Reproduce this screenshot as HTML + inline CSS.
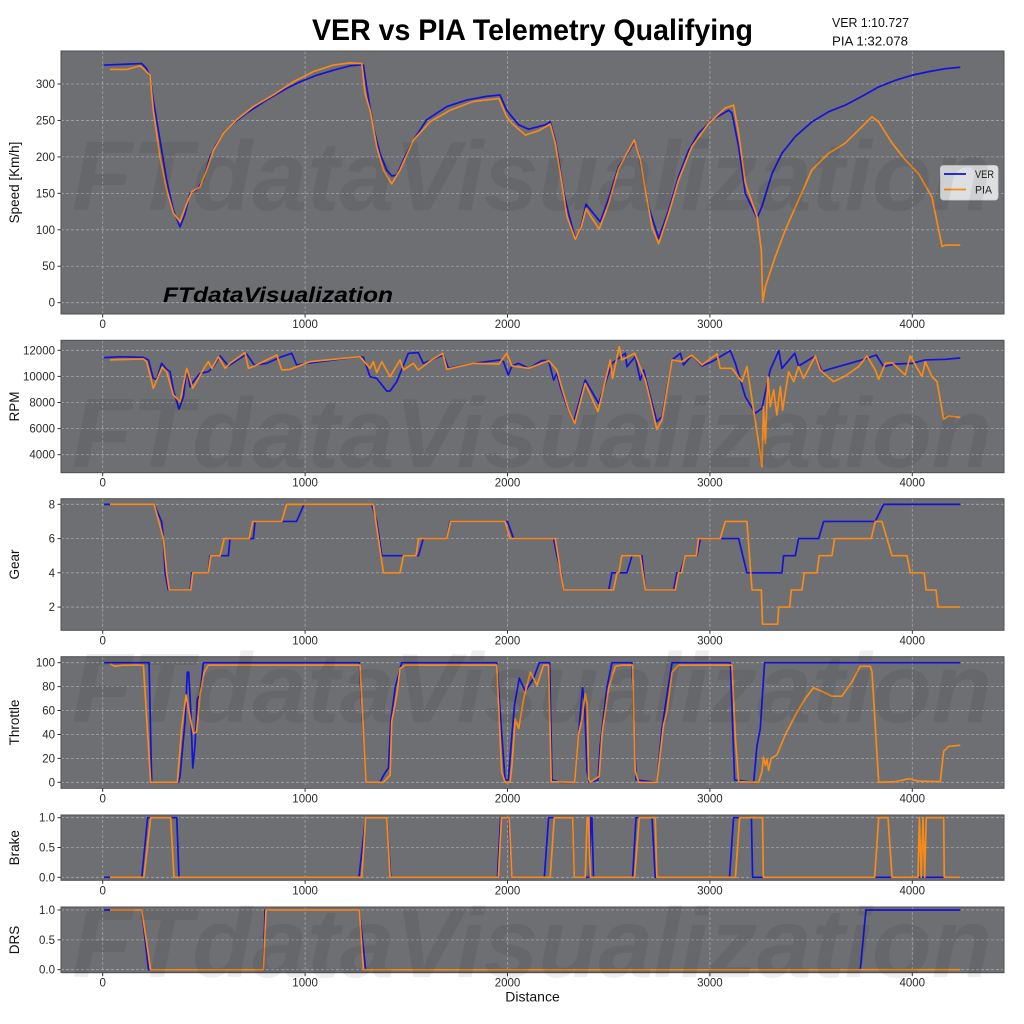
<!DOCTYPE html>
<html><head><meta charset="utf-8"><style>
html,body{margin:0;padding:0;background:#fff;}
svg{display:block;}
text{font-family:"Liberation Sans",sans-serif;}
.tk{font-size:11.5px;fill:#2a2a2a;}
.yl{font-size:13.5px;fill:#111;}
.grid line{stroke:#a3a5a8;stroke-width:0.8;stroke-dasharray:3 2;}
.ver{fill:none;stroke:#1512d9;stroke-width:1.7;vector-effect:non-scaling-stroke;stroke-linejoin:round;}
.pia{fill:none;stroke:#f88a15;stroke-width:1.7;vector-effect:non-scaling-stroke;stroke-linejoin:round;}
.ax{fill:#6d6f73;}
.fr{fill:none;stroke:#4e4f52;stroke-width:1;}
.tm line{stroke:#333;stroke-width:1;}
</style></head><body>
<svg width="1024" height="1024" viewBox="0 0 1024 1024" xmlns="http://www.w3.org/2000/svg">
<defs>
<clipPath id="c1"><rect x="61" y="51" width="943" height="263"/></clipPath>
<clipPath id="c2"><rect x="61" y="340.3" width="943" height="132.4"/></clipPath>
<clipPath id="c3"><rect x="61" y="498.7" width="943" height="131.6"/></clipPath>
<clipPath id="c4"><rect x="61" y="656.7" width="943" height="131.6"/></clipPath>
<clipPath id="c5"><rect x="61" y="815" width="943" height="65.3"/></clipPath>
<clipPath id="c6"><rect x="61" y="907" width="943" height="65.7"/></clipPath>
</defs>

<!-- Title -->
<text x="532.5" y="40" text-anchor="middle" font-size="30" font-weight="bold" textLength="441" lengthAdjust="spacingAndGlyphs" fill="#000">VER vs PIA Telemetry Qualifying</text>
<text x="832" y="27" font-size="13" textLength="77" lengthAdjust="spacingAndGlyphs" fill="#111">VER 1:10.727</text>
<text x="832" y="45.5" font-size="13" textLength="76" lengthAdjust="spacingAndGlyphs" fill="#111">PIA 1:32.078</text>

<!-- ===== Axes 1: Speed ===== -->
<rect class="ax" x="61" y="51" width="943" height="263"/>
<g class="grid">
<line x1="102.7" y1="51" x2="102.7" y2="314"/><line x1="305.1" y1="51" x2="305.1" y2="314"/><line x1="507.5" y1="51" x2="507.5" y2="314"/><line x1="709.9" y1="51" x2="709.9" y2="314"/><line x1="912.3" y1="51" x2="912.3" y2="314"/>
<line x1="61" y1="302.7" x2="1004" y2="302.7"/><line x1="61" y1="266.25" x2="1004" y2="266.25"/><line x1="61" y1="229.8" x2="1004" y2="229.8"/><line x1="61" y1="193.35" x2="1004" y2="193.35"/><line x1="61" y1="156.9" x2="1004" y2="156.9"/><line x1="61" y1="120.45" x2="1004" y2="120.45"/><line x1="61" y1="84" x2="1004" y2="84"/>
</g>
<g clip-path="url(#c1)"><g transform="translate(102.7 302.7) scale(0.2024 -0.729)">
<polyline class="ver" points="7,326 193,328 217,321 234,310 250,278 283,223 316,168 349,127 382,104 407,122 431,150 464,155 497,168 530,200 555,214 563,218 596,232 646,246 711,260 810,278 909,294 975,303 1057,312 1140,319 1222,325 1271,326 1288,326 1304,296 1337,241 1370,205 1403,182 1428,174 1453,175 1486,196 1535,223 1601,251 1700,269 1798,278 1897,283 1963,285 1996,264 2022,255 2055,244 2104,238 2187,244 2211,248 2236,223 2253,196 2277,152 2302,122 2335,88 2360,100 2388,135 2417,125 2458,111 2500,143 2549,187 2590,203 2626,221 2648,205 2673,168 2697,132 2747,88 2796,127 2845,173 2895,209 2944,232 3010,251 3093,264 3109,260 3142,214 3175,150 3233,116 3257,132 3307,177 3356,205 3422,228 3504,248 3587,262 3669,271 3751,283 3834,296 3916,305 3998,312 4081,317 4163,321 4237,323"/>
<polyline class="pia" points="36,320 119,320 184,325 201,321 234,312 250,264 283,200 316,155 349,123 382,111 415,136 440,152 481,159 514,182 547,209 596,232 662,251 744,269 843,285 942,303 1041,317 1140,326 1222,329 1280,328 1296,287 1321,264 1354,214 1387,182 1428,163 1469,182 1535,223 1617,248 1716,264 1831,276 1958,280 1996,255 2022,246 2088,230 2154,236 2211,245 2236,219 2261,177 2294,118 2335,87 2365,104 2388,129 2417,116 2453,101 2500,136 2549,184 2626,223 2656,196 2681,155 2714,104 2747,81 2796,122 2845,168 2911,214 2994,246 3076,267 3117,271 3142,232 3175,164 3233,118 3254,72 3261,1 3274,22 3323,63 3373,100 3438,141 3504,182 3587,205 3669,219 3735,237 3801,255 3834,248 3900,219 3965,196 4031,177 4097,145 4147,77 4163,79 4237,79"/>
</g></g>
<rect class="fr" x="61" y="51" width="943" height="263"/>
<g class="tm">
<line x1="57.5" y1="302.7" x2="61" y2="302.7"/><line x1="57.5" y1="266.25" x2="61" y2="266.25"/><line x1="57.5" y1="229.8" x2="61" y2="229.8"/><line x1="57.5" y1="193.35" x2="61" y2="193.35"/><line x1="57.5" y1="156.9" x2="61" y2="156.9"/><line x1="57.5" y1="120.45" x2="61" y2="120.45"/><line x1="57.5" y1="84" x2="61" y2="84"/>
<line x1="102.7" y1="314" x2="102.7" y2="317.5"/><line x1="305.1" y1="314" x2="305.1" y2="317.5"/><line x1="507.5" y1="314" x2="507.5" y2="317.5"/><line x1="709.9" y1="314" x2="709.9" y2="317.5"/><line x1="912.3" y1="314" x2="912.3" y2="317.5"/>
</g>
<g class="tk" text-anchor="end">
<text x="55" y="306.7">0</text><text x="55" y="270.2">50</text><text x="55" y="233.8">100</text><text x="55" y="197.3">150</text><text x="55" y="160.9">200</text><text x="55" y="124.4">250</text><text x="55" y="88">300</text>
</g>
<g class="tk" text-anchor="middle">
<text x="102.7" y="328">0</text><text x="305.1" y="328">1000</text><text x="507.5" y="328">2000</text><text x="709.9" y="328">3000</text><text x="912.3" y="328">4000</text>
</g>
<text class="yl" transform="translate(19 182.5) rotate(-90)" text-anchor="middle">Speed [Km/h]</text>
<text x="163" y="302" font-size="21" font-weight="bold" font-style="italic" textLength="230" lengthAdjust="spacingAndGlyphs" fill="#000">FTdataVisualization</text>
<!-- legend -->
<rect x="940.5" y="165.5" width="57.5" height="34.5" rx="3" fill="#dedfe1" stroke="#cfd0d2" stroke-width="0.8"/>
<line x1="944" y1="174" x2="966" y2="174" stroke="#1512d9" stroke-width="1.7"/>
<line x1="944" y1="189.5" x2="966" y2="189.5" stroke="#f88a15" stroke-width="1.7"/>
<text x="975" y="178" font-size="11" textLength="19" lengthAdjust="spacingAndGlyphs" fill="#222">VER</text>
<text x="975" y="193.5" font-size="11" textLength="17" lengthAdjust="spacingAndGlyphs" fill="#222">PIA</text>

<!-- ===== Axes 2: RPM ===== -->
<rect class="ax" x="61" y="340.3" width="943" height="132.4"/>
<g class="grid">
<line x1="102.7" y1="340.3" x2="102.7" y2="472.7"/><line x1="305.1" y1="340.3" x2="305.1" y2="472.7"/><line x1="507.5" y1="340.3" x2="507.5" y2="472.7"/><line x1="709.9" y1="340.3" x2="709.9" y2="472.7"/><line x1="912.3" y1="340.3" x2="912.3" y2="472.7"/>
<line x1="61" y1="454.7" x2="1004" y2="454.7"/><line x1="61" y1="428.6" x2="1004" y2="428.6"/><line x1="61" y1="402.5" x2="1004" y2="402.5"/><line x1="61" y1="376.4" x2="1004" y2="376.4"/><line x1="61" y1="350.3" x2="1004" y2="350.3"/>
</g>
<g clip-path="url(#c2)"><g transform="translate(102.7 506.9) scale(0.2024 -0.01305)">
<polyline class="ver" points="7,11440 86,11510 201,11460 226,11260 250,9850 267,9780 291,11000 316,10540 333,10360 349,8960 377,7500 399,8450 415,10620 432,9210 448,9600 481,10240 522,10360 547,10750 580,11570 621,10800 711,11720 748,10880 810,11000 876,11460 934,11770 958,10880 1008,11000 1140,11260 1271,11510 1288,11460 1321,9980 1354,9850 1403,8880 1420,8880 1453,9600 1510,11770 1559,11820 1584,11000 1683,11640 1708,10620 1831,11000 1963,11260 1980,11130 2004,10110 2022,10800 2055,11000 2104,10620 2170,11210 2203,11210 2228,9720 2244,10240 2261,9210 2294,7680 2327,6530 2384,9720 2450,7940 2516,11000 2549,11390 2582,11770 2590,10750 2631,11510 2656,9720 2673,10490 2697,8960 2738,6530 2763,6910 2813,11260 2854,11770 2870,10880 2911,11640 2961,10800 3010,11130 3101,11970 3126,11000 3175,8450 3224,7170 3257,7550 3298,10490 3340,11970 3356,10620 3419,11770 3438,10800 3521,11570 3554,10360 3587,10540 3751,11260 3822,11640 3858,10750 3916,10950 3998,11000 4064,11260 4163,11310 4237,11410"/>
<polyline class="pia" points="36,11260 201,11340 217,11130 250,9090 294,10700 316,10360 349,8580 382,8060 415,10620 445,9090 464,9600 497,10540 522,11130 539,10620 572,11510 605,10620 629,11000 703,11820 720,10620 744,10750 860,11640 885,10490 926,10540 1024,11130 1140,11310 1271,11510 1321,10620 1337,11130 1354,10290 1379,11130 1420,9980 1469,11260 1486,10490 1535,11000 1559,10490 1625,11260 1680,11770 1700,10540 1831,11000 1958,10950 1996,11770 2022,10800 2104,10620 2203,11210 2244,10490 2269,9090 2302,7420 2332,6400 2384,9470 2447,7300 2508,11260 2519,9850 2552,12280 2565,11260 2628,11770 2681,9720 2705,8190 2738,5940 2763,6660 2813,11260 2862,11130 2911,11640 2961,10880 3035,11720 3051,10620 3109,10620 3158,9600 3183,10750 3216,7420 3241,4870 3257,3080 3265,7680 3274,4870 3287,9980 3298,7680 3315,8960 3331,7040 3348,9210 3359,7420 3389,10360 3414,9600 3438,10750 3463,9850 3521,11570 3545,10490 3611,9600 3669,10030 3735,10750 3776,11570 3817,10490 3834,9780 3867,11000 3900,11060 3965,10110 3990,11570 4048,9980 4064,11130 4097,9980 4122,9600 4155,6710 4180,6970 4237,6860"/>
</g></g>
<rect class="fr" x="61" y="340.3" width="943" height="132.4"/>
<g class="tm">
<line x1="57.5" y1="454.7" x2="61" y2="454.7"/><line x1="57.5" y1="428.6" x2="61" y2="428.6"/><line x1="57.5" y1="402.5" x2="61" y2="402.5"/><line x1="57.5" y1="376.4" x2="61" y2="376.4"/><line x1="57.5" y1="350.3" x2="61" y2="350.3"/>
<line x1="102.7" y1="472.7" x2="102.7" y2="476.2"/><line x1="305.1" y1="472.7" x2="305.1" y2="476.2"/><line x1="507.5" y1="472.7" x2="507.5" y2="476.2"/><line x1="709.9" y1="472.7" x2="709.9" y2="476.2"/><line x1="912.3" y1="472.7" x2="912.3" y2="476.2"/>
</g>
<g class="tk" text-anchor="end">
<text x="55" y="458.7">4000</text><text x="55" y="432.6">6000</text><text x="55" y="406.5">8000</text><text x="55" y="380.4">10000</text><text x="55" y="354.3">12000</text>
</g>
<g class="tk" text-anchor="middle">
<text x="102.7" y="486.5">0</text><text x="305.1" y="486.5">1000</text><text x="507.5" y="486.5">2000</text><text x="709.9" y="486.5">3000</text><text x="912.3" y="486.5">4000</text>
</g>
<text class="yl" transform="translate(19 406.5) rotate(-90)" text-anchor="middle">RPM</text>

<!-- ===== Axes 3: Gear ===== -->
<rect class="ax" x="61" y="498.7" width="943" height="131.6"/>
<g class="grid">
<line x1="102.7" y1="498.7" x2="102.7" y2="630.3"/><line x1="305.1" y1="498.7" x2="305.1" y2="630.3"/><line x1="507.5" y1="498.7" x2="507.5" y2="630.3"/><line x1="709.9" y1="498.7" x2="709.9" y2="630.3"/><line x1="912.3" y1="498.7" x2="912.3" y2="630.3"/>
<line x1="61" y1="607.06" x2="1004" y2="607.06"/><line x1="61" y1="572.8" x2="1004" y2="572.8"/><line x1="61" y1="538.6" x2="1004" y2="538.6"/><line x1="61" y1="504.3" x2="1004" y2="504.3"/>
</g>
<g clip-path="url(#c3)"><g transform="translate(102.7 641.3) scale(0.2024 -17.12)">
<polyline class="ver" points="7,8 254,8 291,7 300,6 308,4 324,3 432,3 440,4 522,4 530,5 621,5 629,6 744,6 753,7 958,7 995,8 1329,8 1354,7 1379,5 1560,5 1584,6 1700,6 1716,7 2000,7 2030,6 2228,6 2244,5 2266,4 2275,3 2500,3 2516,4 2590,4 2615,5 2664,5 2681,3 2821,3 2837,4 2853,4 2878,5 2936,5 2953,6 3142,6 3183,4 3356,4 3364,5 3422,5 3438,6 3537,6 3562,7 3817,7 3858,8 4237,8"/>
<polyline class="pia" points="36,8 254,8 300,6 316,4 329,3 435,3 445,4 522,4 534,5 580,5 600,6 724,6 741,7 884,7 909,8 1337,8 1387,4 1469,4 1486,5 1548,5 1561,6 1700,6 1719,7 1988,7 2013,6 2236,6 2277,3 2524,3 2541,4 2550,4 2565,5 2656,5 2681,3 2829,3 2845,4 2860,4 2878,5 2933,5 2944,6 3051,6 3076,7 3183,7 3208,3 3254,3 3260,1 3335,1 3340,2 3394,2 3402,3 3455,3 3466,4 3529,4 3540,5 3603,5 3616,6 3797,6 3817,7 3850,7 3900,5 3974,5 3990,4 4059,4 4068,3 4117,3 4127,2 4237,2"/>
</g></g>
<rect class="fr" x="61" y="498.7" width="943" height="131.6"/>
<g class="tm">
<line x1="57.5" y1="607.06" x2="61" y2="607.06"/><line x1="57.5" y1="572.8" x2="61" y2="572.8"/><line x1="57.5" y1="538.6" x2="61" y2="538.6"/><line x1="57.5" y1="504.3" x2="61" y2="504.3"/>
<line x1="102.7" y1="630.3" x2="102.7" y2="633.8"/><line x1="305.1" y1="630.3" x2="305.1" y2="633.8"/><line x1="507.5" y1="630.3" x2="507.5" y2="633.8"/><line x1="709.9" y1="630.3" x2="709.9" y2="633.8"/><line x1="912.3" y1="630.3" x2="912.3" y2="633.8"/>
</g>
<g class="tk" text-anchor="end">
<text x="55" y="611">2</text><text x="55" y="576.8">4</text><text x="55" y="542.6">6</text><text x="55" y="508.3">8</text>
</g>
<g class="tk" text-anchor="middle">
<text x="102.7" y="644.3">0</text><text x="305.1" y="644.3">1000</text><text x="507.5" y="644.3">2000</text><text x="709.9" y="644.3">3000</text><text x="912.3" y="644.3">4000</text>
</g>
<text class="yl" transform="translate(19 564.5) rotate(-90)" text-anchor="middle">Gear</text>

<!-- ===== Axes 4: Throttle ===== -->
<rect class="ax" x="61" y="656.7" width="943" height="131.6"/>
<g class="grid">
<line x1="102.7" y1="656.7" x2="102.7" y2="788.3"/><line x1="305.1" y1="656.7" x2="305.1" y2="788.3"/><line x1="507.5" y1="656.7" x2="507.5" y2="788.3"/><line x1="709.9" y1="656.7" x2="709.9" y2="788.3"/><line x1="912.3" y1="656.7" x2="912.3" y2="788.3"/>
<line x1="61" y1="782.3" x2="1004" y2="782.3"/><line x1="61" y1="758.4" x2="1004" y2="758.4"/><line x1="61" y1="734.5" x2="1004" y2="734.5"/><line x1="61" y1="710.5" x2="1004" y2="710.5"/><line x1="61" y1="686.6" x2="1004" y2="686.6"/><line x1="61" y1="662.7" x2="1004" y2="662.7"/>
</g>
<g clip-path="url(#c4)"><g transform="translate(102.7 782.3) scale(0.2024 -1.196)">
<polyline class="ver" points="7,100 229,100 242,0 374,0 382,5 407,51 418,92 425,92 435,60 445,12 456,31 468,70 481,73 497,100 1268,100 1301,0 1370,0 1379,3 1395,8 1412,12 1423,51 1445,79 1477,100 1947,100 1971,42 1988,2 2004,2 2022,40 2035,65 2058,87 2088,76 2129,87 2157,100 2208,100 2220,2 2261,0 2332,0 2351,40 2371,79 2381,65 2393,9 2404,0 2447,2 2458,31 2491,79 2516,100 2615,100 2635,2 2738,0 2763,45 2788,73 2813,100 3101,100 3122,2 3216,0 3233,31 3249,45 3270,100 4237,100"/>
<polyline class="pia" points="36,99 60,97 100,98 201,98 237,0 369,0 390,45 412,73 423,62 448,41 464,42 481,73 501,92 522,98 1271,98 1301,0 1387,0 1420,6 1428,51 1453,73 1469,95 1494,98 1947,98 1971,9 1988,0 2013,0 2022,14 2038,53 2055,45 2080,70 2113,92 2146,81 2178,98 2203,98 2216,0.5 2332,0 2351,40 2368,53 2384,74 2394,65 2401,3 2409,0 2453,5 2467,40 2500,79 2533,97 2565,98 2618,98 2631,9 2648,0 2738,0 2771,48 2788,59 2813,92 2845,98 3109,98 3126,37 3142,0.5 3241,0 3257,9 3265,21 3274,14 3282,19 3290,10 3303,20 3331,23 3373,40 3422,56 3471,70 3512,79 3554,76 3603,72 3652,72 3702,84 3743,97 3793,97 3801,92 3834,0 3916,0.5 3982,3 4031,1 4138,0.5 4155,26 4180,30 4237,31"/>
</g></g>
<rect class="fr" x="61" y="656.7" width="943" height="131.6"/>
<g class="tm">
<line x1="57.5" y1="782.3" x2="61" y2="782.3"/><line x1="57.5" y1="758.4" x2="61" y2="758.4"/><line x1="57.5" y1="734.5" x2="61" y2="734.5"/><line x1="57.5" y1="710.5" x2="61" y2="710.5"/><line x1="57.5" y1="686.6" x2="61" y2="686.6"/><line x1="57.5" y1="662.7" x2="61" y2="662.7"/>
<line x1="102.7" y1="788.3" x2="102.7" y2="791.8"/><line x1="305.1" y1="788.3" x2="305.1" y2="791.8"/><line x1="507.5" y1="788.3" x2="507.5" y2="791.8"/><line x1="709.9" y1="788.3" x2="709.9" y2="791.8"/><line x1="912.3" y1="788.3" x2="912.3" y2="791.8"/>
</g>
<g class="tk" text-anchor="end">
<text x="55" y="786.3">0</text><text x="55" y="762.4">20</text><text x="55" y="738.5">40</text><text x="55" y="714.5">60</text><text x="55" y="690.6">80</text><text x="55" y="666.7">100</text>
</g>
<g class="tk" text-anchor="middle">
<text x="102.7" y="802.3">0</text><text x="305.1" y="802.3">1000</text><text x="507.5" y="802.3">2000</text><text x="709.9" y="802.3">3000</text><text x="912.3" y="802.3">4000</text>
</g>
<text class="yl" transform="translate(19 722.5) rotate(-90)" text-anchor="middle">Throttle</text>

<!-- ===== Axes 5: Brake ===== -->
<rect class="ax" x="61" y="815" width="943" height="65.3"/>
<g class="grid">
<line x1="102.7" y1="815" x2="102.7" y2="880.3"/><line x1="305.1" y1="815" x2="305.1" y2="880.3"/><line x1="507.5" y1="815" x2="507.5" y2="880.3"/><line x1="709.9" y1="815" x2="709.9" y2="880.3"/><line x1="912.3" y1="815" x2="912.3" y2="880.3"/>
<line x1="61" y1="877.3" x2="1004" y2="877.3"/><line x1="61" y1="847.5" x2="1004" y2="847.5"/><line x1="61" y1="817.7" x2="1004" y2="817.7"/>
</g>
<g clip-path="url(#c5)"><g transform="translate(102.7 877.3) scale(0.2024 -59.6)">
<polyline class="ver" points="7,0 193,0 222,1 366,1 377,0 1266,0 1299,1 1403,1 1423,0 1950,0 1966,1 2005,1 2022,0 2182,0 2203,1 2228,1 2322,1 2330,0 2405,0 2412,1 2417,1 2425,0 2618,0 2635,1 2714,1 2730,0 3097,0 3117,1 3205,1 3211,0 4237,0"/>
<polyline class="pia" points="36,0 204,0 237,1 336,1 352,0 1280,0 1299,1 1403,1 1420,0 1955,0 1970,1 2008,1 2022,0 2211,0 2231,1 2322,1 2330,0 2384,0 2394,1 2401,1 2409,0 2628,0 2651,1 2730,1 2738,0 3126,0 3147,1 3260,1 3264,0 3814,0 3834,1 3880,1 3900,0 4028,0 4035,1 4044,0 4053,1 4061,0 4069,1 4155,1 4158,0 4237,0"/>
</g></g>
<rect class="fr" x="61" y="815" width="943" height="65.3"/>
<g class="tm">
<line x1="57.5" y1="877.3" x2="61" y2="877.3"/><line x1="57.5" y1="847.5" x2="61" y2="847.5"/><line x1="57.5" y1="817.7" x2="61" y2="817.7"/>
<line x1="102.7" y1="880.3" x2="102.7" y2="883.8"/><line x1="305.1" y1="880.3" x2="305.1" y2="883.8"/><line x1="507.5" y1="880.3" x2="507.5" y2="883.8"/><line x1="709.9" y1="880.3" x2="709.9" y2="883.8"/><line x1="912.3" y1="880.3" x2="912.3" y2="883.8"/>
</g>
<g class="tk" text-anchor="end">
<text x="55" y="881.3">0.0</text><text x="55" y="851.5">0.5</text><text x="55" y="821.7">1.0</text>
</g>
<g class="tk" text-anchor="middle">
<text x="102.7" y="894.3">0</text><text x="305.1" y="894.3">1000</text><text x="507.5" y="894.3">2000</text><text x="709.9" y="894.3">3000</text><text x="912.3" y="894.3">4000</text>
</g>
<text class="yl" transform="translate(19 847.7) rotate(-90)" text-anchor="middle">Brake</text>

<!-- ===== Axes 6: DRS ===== -->
<rect class="ax" x="61" y="907" width="943" height="65.7"/>
<g class="grid">
<line x1="102.7" y1="907" x2="102.7" y2="972.7"/><line x1="305.1" y1="907" x2="305.1" y2="972.7"/><line x1="507.5" y1="907" x2="507.5" y2="972.7"/><line x1="709.9" y1="907" x2="709.9" y2="972.7"/><line x1="912.3" y1="907" x2="912.3" y2="972.7"/>
<line x1="61" y1="969.7" x2="1004" y2="969.7"/><line x1="61" y1="939.85" x2="1004" y2="939.85"/><line x1="61" y1="910" x2="1004" y2="910"/>
</g>
<g clip-path="url(#c6)"><g transform="translate(102.7 969.7) scale(0.2024 -59.7)">
<polyline class="ver" points="7,1 193,1 226,0 794,0 802,1 1268,1 1299,0 3743,0 3771,1 4237,1"/>
<polyline class="pia" points="36,1 193,1 237,0 794,0 807,1 1268,1 1288,0 4237,0"/>
</g></g>
<rect class="fr" x="61" y="907" width="943" height="65.7"/>
<g class="tm">
<line x1="57.5" y1="969.7" x2="61" y2="969.7"/><line x1="57.5" y1="939.85" x2="61" y2="939.85"/><line x1="57.5" y1="910" x2="61" y2="910"/>
<line x1="102.7" y1="972.7" x2="102.7" y2="976.2"/><line x1="305.1" y1="972.7" x2="305.1" y2="976.2"/><line x1="507.5" y1="972.7" x2="507.5" y2="976.2"/><line x1="709.9" y1="972.7" x2="709.9" y2="976.2"/><line x1="912.3" y1="972.7" x2="912.3" y2="976.2"/>
</g>
<g class="tk" text-anchor="end">
<text x="55" y="973.7">0.0</text><text x="55" y="943.85">0.5</text><text x="55" y="914">1.0</text>
</g>
<g class="tk" text-anchor="middle">
<text x="102.7" y="986.7">0</text><text x="305.1" y="986.7">1000</text><text x="507.5" y="986.7">2000</text><text x="709.9" y="986.7">3000</text><text x="912.3" y="986.7">4000</text>
</g>
<text class="yl" transform="translate(19 940) rotate(-90)" text-anchor="middle">DRS</text>
<text x="532.5" y="1001.5" font-size="14" text-anchor="middle" fill="#111">Distance</text>

<!-- watermarks -->
<g font-size="98" font-weight="bold" font-style="italic" fill="#000" fill-opacity="0.065">
<text x="72" y="210" textLength="920" lengthAdjust="spacingAndGlyphs">FTdataVisualization</text>
<text x="72" y="467" textLength="920" lengthAdjust="spacingAndGlyphs">FTdataVisualization</text>
<text x="72" y="722" textLength="920" lengthAdjust="spacingAndGlyphs">FTdataVisualization</text>
<text x="72" y="977" textLength="920" lengthAdjust="spacingAndGlyphs">FTdataVisualization</text>
</g>
</svg>
</body></html>
